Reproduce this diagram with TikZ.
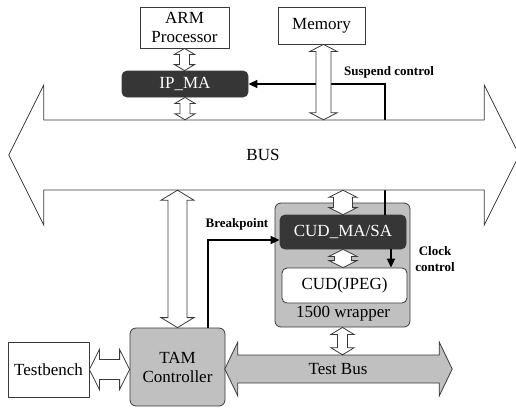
\documentclass[tikz,border=0pt]{standalone}
\usepackage{fontspec}
\setmainfont{Liberation Serif}
\usetikzlibrary{arrows.meta,calc}
\definecolor{darkfill}{HTML}{363636}
\definecolor{grayfill}{HTML}{C0C0C0}
\definecolor{edgec}{HTML}{3A3A3A}
% vertical hollow double arrow: [fill]{top}{bottom}{shaft half}{head half}{head length}
\newcommand{\hollowV}[6][white]{%
  \draw[harrow, fill=#1] let \p1=(#2), \p2=(#3) in
   (\x1,\y1) -- ({\x1+#5},{\y1-#6}) -- ({\x1+#4},{\y1-#6}) -- ({\x1+#4},{\y2+#6})
   -- ({\x1+#5},{\y2+#6}) -- (\x1,\y2) -- ({\x1-#5},{\y2+#6}) -- ({\x1-#4},{\y2+#6})
   -- ({\x1-#4},{\y1-#6}) -- ({\x1-#5},{\y1-#6}) -- cycle;}
% horizontal hollow double arrow: [fill]{left}{right}{shaft half}{head half}{head length}
\newcommand{\hollowH}[6][white]{%
  \draw[harrow, fill=#1] let \p1=(#2), \p2=(#3) in
   (\x1,\y1) -- ({\x1+#6},{\y1+#5}) -- ({\x1+#6},{\y1+#4}) -- ({\x2-#6},{\y1+#4})
   -- ({\x2-#6},{\y1+#5}) -- (\x2,\y1) -- ({\x2-#6},{\y1-#5}) -- ({\x2-#6},{\y1-#4})
   -- ({\x1+#6},{\y1-#4}) -- ({\x1+#6},{\y1-#5}) -- cycle;}
\begin{document}
\begin{tikzpicture}[x=1pt,y=-1pt,
  every node/.style={font=\fontsize{17}{19}\selectfont, inner sep=0pt},
  box/.style={draw=edgec, line width=0.8pt, fill=white, align=center},
  darkbox/.style={draw=edgec, line width=0.8pt, fill=darkfill, text=white, rounded corners=5pt, align=center},
  graybox/.style={draw=edgec, line width=0.8pt, fill=grayfill, rounded corners=6pt, align=center},
  shaft/.style={draw=none},
  harrow/.style={draw=edgec, line width=0.8pt, line join=miter},
  ctrl/.style={line width=1.6pt, -{Triangle[length=9pt,width=8pt]}},
  lbl/.style={font=\bfseries\fontsize{13}{15}\selectfont, align=center}]
\useasboundingbox (0,0) rectangle (516,407);

% boxes
\node[box, minimum width=89, minimum height=41] (arm) at (184.5,27.5) {ARM\\Processor};
\node[box, minimum width=87, minimum height=37] (mem) at (321.5,25.5) {Memory};
\node[darkbox, minimum width=126, minimum height=26] (ipma) at (185,84) {IP\_MA};
\node[graybox, minimum width=135, minimum height=124] (wrap) at (342.5,265) {};
\node (wraplbl) at (343,314) {1500 wrapper};
\node[darkbox, minimum width=126, minimum height=34] (cudma) at (343,232) {CUD\_MA/SA};
\node[box, rounded corners=5pt, minimum width=125, minimum height=35] (cudjpeg) at (344.5,285.5) {CUD(JPEG)};
\node[graybox, minimum width=95, minimum height=78] (tam) at (177.5,367) {TAM\\Controller};
\node[box, minimum width=81, minimum height=55] (tb) at (48.5,369.5) {Testbench};
\path node[shaft, minimum width=440, minimum height=70] (bus) at (264,155) {};
\path node[shaft, minimum width=200, minimum height=28] (testbus) at (338,369) {};

% control lines
\coordinate (susA) at ($(cudma.north)+(42,0)$);
\draw[ctrl] (susA) |- (ipma.east);
\coordinate (bpA) at ($(tam.north)+(30.5,0)$);
\draw[ctrl] (bpA) |- ($(cudma.west)+(0,8)$);
\coordinate (clkA) at ($(cudma.south)+(48,0)$);
\draw[ctrl] (clkA) -- (clkA |- cudjpeg.north);

% BUS
\coordinate (busL) at ($(bus.west)+(-35,0)$);
\coordinate (busR) at ($(bus.east)+(35,0)$);
\hollowH{busL}{busR}{35pt}{70pt}{35pt}
\node (buslbl) at (263,155) {BUS};

% Test Bus
\coordinate (tbusL) at ($(testbus.west)+(-13,0)$);
\coordinate (tbusR) at ($(testbus.east)+(14,0)$);
\hollowH[grayfill]{tbusL}{tbusR}{14pt}{27pt}{13pt}
\node (tbuslbl) at (338,369) {Test Bus};

% hollow connectors
\hollowV{arm.south}{arm.south |- ipma.north}{5pt}{10pt}{6pt}
\hollowV{ipma.south}{ipma.south |- bus.north}{5pt}{10pt}{6pt}
\coordinate (memA) at ($(mem.south)+(2,0)$);
\hollowV{memA}{memA |- bus.north}{7.5pt}{13.5pt}{7pt}
\hollowV{tam.north |- bus.south}{tam.north}{9.5pt}{16.5pt}{10pt}
\hollowV{cudma.north |- bus.south}{cudma.north}{9.5pt}{14pt}{7pt}
\hollowV{cudma.south}{cudma.south |- cudjpeg.north}{8.5pt}{14pt}{7pt}
\hollowV{wrap.south}{wrap.south |- testbus.north}{5pt}{11.5pt}{7pt}
\hollowH{tb.east}{tb.east -| tam.west}{10pt}{20pt}{10pt}

% labels
\node[lbl, anchor=west] (suslbl) at (344,72) {Suspend control};
\node[lbl] (bplbl) at (237,224) {Breakpoint};
\node[lbl, font=\bfseries\fontsize{13}{16}\selectfont] (clklbl) at (435,259) {Clock\\control};
\end{tikzpicture}
\end{document}
